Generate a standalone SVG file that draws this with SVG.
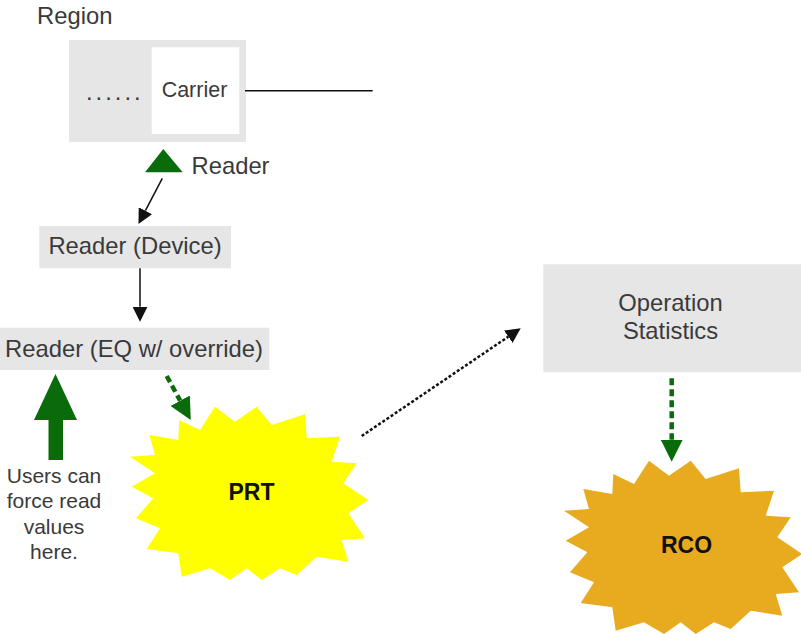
<svg xmlns="http://www.w3.org/2000/svg" xmlns:xlink="http://www.w3.org/1999/xlink" width="801" height="634" viewBox="0 0 801 634">
<style>
.lbl{font-family:"Liberation Sans",Arial,sans-serif;font-size:23.8px;fill:#3a3a3a}
.mid{text-anchor:middle}
.box{fill:#e6e6e6}
.bold{font-family:"Liberation Sans",Arial,sans-serif;font-size:23px;font-weight:bold;fill:#111;text-anchor:middle}
.blk{stroke:#111;stroke-width:1.5;fill:none}
.dot{stroke:#111;stroke-width:2.5;stroke-dasharray:3 2;fill:none}
.gdash{stroke:#0a6b0a;stroke-width:4.5;stroke-dasharray:7 4;fill:none}
</style>
<defs>
<marker id="ahB" markerUnits="userSpaceOnUse" viewBox="0 0 10 10" refX="0" refY="5" markerWidth="15" markerHeight="15" orient="auto"><path d="M0,0 L10,5 L0,10 z" fill="#111"/></marker>
<marker id="ahG" markerUnits="userSpaceOnUse" viewBox="0 0 10 10" refX="0" refY="5" markerWidth="22" markerHeight="22" orient="auto"><path d="M0,0 L10,5 L0,10 z" fill="#0a6b0a"/></marker>
<path id="burst" d="M179.3,420 L200,430 L215,406.7 L235,421.7 L256.7,406.7 L271.7,425 L305,414.3 L306.7,438.3 L340,436.7 L331.7,461.7 L356.7,463.3 L343.3,483.3 L368.3,500 L348.3,513.3 L365,538.3 L341.7,540 L348.3,561.7 L316.7,556.7 L296.7,575 L280,568.3 L261.7,580 L246.7,568.3 L230,580 L210,568.3 L181.7,576.7 L178.3,553.3 L146.7,549 L160,528.3 L136,518.3 L153.3,498.3 L131.7,486.7 L155,473.3 L130,456.7 L155,455 L149.3,435 L178.3,440 Z"/>
</defs>

<g id="region">
<text class="lbl" x="37" y="24">Region</text>
<rect class="box" x="69" y="40" width="177" height="102"/>
<text class="lbl" x="86" y="99.5" style="letter-spacing:3px">......</text>
</g>
<g id="carrier">
<rect x="151.7" y="47.3" width="87.6" height="86.7" fill="#ffffff"/>
<text class="lbl mid" x="194.5" y="96.5" style="font-size:21.5px">Carrier</text>
</g>
<g id="reader-marker">
<polygon points="145,172.3 182.7,172.3 163.3,149" fill="#0a6b0a"/>
<text class="lbl" x="191.5" y="174">Reader</text>
</g>
<g id="reader-device">
<rect class="box" x="39.3" y="226" width="191.7" height="42.3"/>
<text class="lbl mid" x="135" y="254">Reader (Device)</text>
</g>
<g id="reader-eq">
<rect class="box" x="0" y="327.7" width="269.3" height="42.3"/>
<text class="lbl mid" x="134" y="356.5">Reader (EQ w/ override)</text>
</g>
<g id="user-note">
<polygon points="55.5,374 77,420 63,420 63,460 48.5,460 48.5,420 34,420" fill="#0a6b0a"/>
<text class="lbl mid" style="font-size:21px" x="54" y="482.5">Users can</text>
<text class="lbl mid" style="font-size:21px" x="54" y="508.3">force read</text>
<text class="lbl mid" style="font-size:21px" x="54" y="533.8">values</text>
<text class="lbl mid" style="font-size:21px" x="54" y="559.3">here.</text>
</g>
<g id="prt">
<use xlink:href="#burst" fill="#ffff00"/>
<text class="bold" x="251.5" y="500">PRT</text>
</g>
<g id="opstats">
<rect class="box" x="543.3" y="264.3" width="257.7" height="108"/>
<text class="lbl mid" x="670.5" y="310.5">Operation</text>
<text class="lbl mid" x="670.5" y="339">Statistics</text>
</g>
<g id="rco">
<use xlink:href="#burst" transform="translate(434,54)" fill="#e8ab1f"/>
<text class="bold" x="686.5" y="553">RCO</text>
</g>

<g id="connectors">
<line class="blk" x1="245" y1="90.7" x2="372.7" y2="90.7"/>
<line class="blk" x1="162.3" y1="178.3" x2="145.4" y2="210.7" marker-end="url(#ahB)"/>
<line class="blk" x1="140" y1="268.3" x2="140" y2="306.7" marker-end="url(#ahB)"/>
<line class="dot" x1="361.7" y1="436" x2="508.3" y2="336.7" marker-end="url(#ahB)"/>
<line class="gdash" x1="166.7" y1="376" x2="180.2" y2="400.7" marker-end="url(#ahG)"/>
<line class="gdash" x1="671.7" y1="378.3" x2="671.7" y2="439.7" marker-end="url(#ahG)"/>
</g>
</svg>
